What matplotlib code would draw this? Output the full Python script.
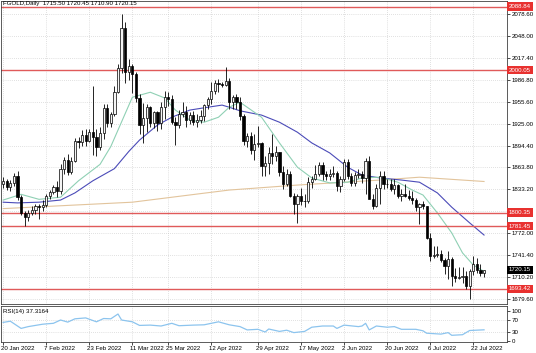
import matplotlib
matplotlib.use("Agg")
import matplotlib.pyplot as plt
import matplotlib.transforms as mtransforms
import numpy as np
import pandas as pd

plt.rcParams["font.family"] = ["Liberation Sans", "DejaVu Sans"]

# daily bars 20 Jan .. 27 Jul 2022
dates = pd.bdate_range("2022-01-20", "2022-07-27")

opens = [1840, 1844, 1836, 1842, 1852, 1822, 1800, 1794, 1800, 1804,
         1810, 1808, 1811, 1823, 1829, 1836, 1830, 1862, 1874, 1857,
         1873, 1901, 1899, 1909, 1901, 1913, 1907, 1892, 1912, 1947,
         1926, 1938, 1970, 2003, 2059, 1997, 2006, 1994, 1961, 1923,
         1933, 1948, 1926, 1941, 1926, 1949, 1963, 1959, 1928, 1923,
         1938, 1942, 1930, 1937, 1928, 1930, 1936, 1951, 1959, 1971,
         1982, 1980, 1979, 1985, 1955, 1963, 1956, 1936, 1901, 1908,
         1888, 1896, 1898, 1866, 1870, 1884, 1879, 1885, 1857, 1840,
         1855, 1823, 1812, 1824, 1816, 1817, 1843, 1847, 1855, 1867,
         1854, 1852, 1854, 1856, 1838, 1848, 1871, 1852, 1842, 1853,
         1854, 1849, 1872, 1820, 1809, 1835, 1852, 1841, 1840, 1833,
         1839, 1823, 1827, 1824, 1821, 1818, 1808, 1812, 1809, 1765,
         1740, 1741, 1743, 1734, 1726, 1736, 1712, 1709, 1710, 1712,
         1697, 1719, 1728, 1720, 1715.5]
highs = [1850, 1847, 1846, 1856, 1858, 1825, 1803, 1804, 1810, 1812,
         1813, 1818, 1826, 1832, 1839, 1844, 1868, 1878, 1883, 1878,
         1905, 1906, 1916, 1917, 1917, 1978, 1917, 1921, 1953, 1953,
         1941, 1978, 2008, 2078, 2068, 2015, 2008, 1997, 1966, 1954,
         1953, 1950, 1943, 1943, 1956, 1971, 1969, 1965, 1934, 1944,
         1955, 1950, 1942, 1943, 1939, 1944, 1953, 1963, 1983, 1986,
         1988, 1983, 2004, 1989, 1965, 1966, 1962, 1938, 1912, 1913,
         1911, 1922, 1899, 1879, 1892, 1911, 1894, 1886, 1866, 1861,
         1859, 1828, 1827, 1835, 1827, 1850, 1851, 1867, 1871, 1871,
         1858, 1861, 1865, 1859, 1851, 1875, 1875, 1856, 1857, 1861,
         1859, 1877, 1880, 1827, 1841, 1858, 1858, 1847, 1848, 1848,
         1840, 1834, 1840, 1832, 1831, 1821, 1814, 1816, 1810, 1772,
         1753, 1753, 1748, 1737, 1746, 1738, 1723, 1724, 1724, 1718,
         1721, 1740, 1737, 1728, 1720.45]
lows = [1835, 1832, 1830, 1838, 1818, 1797, 1782, 1789, 1797, 1798,
        1792, 1803, 1808, 1819, 1826, 1822, 1827, 1854, 1853, 1855,
        1871, 1891, 1894, 1894, 1899, 1881, 1880, 1888, 1903, 1921,
        1921, 1936, 1968, 1996, 1982, 1986, 1968, 1955, 1911, 1898,
        1914, 1921, 1919, 1915, 1917, 1931, 1950, 1925, 1895, 1919,
        1935, 1920, 1925, 1923, 1920, 1926, 1929, 1945, 1953, 1966,
        1970, 1977, 1978, 1946, 1945, 1945, 1930, 1895, 1893, 1882,
        1874, 1892, 1852, 1852, 1854, 1869, 1873, 1852, 1834, 1838,
        1822, 1799, 1786, 1811, 1808, 1814, 1835, 1846, 1851, 1846,
        1846, 1846, 1850, 1830, 1829, 1845, 1847, 1838, 1837, 1849,
        1842, 1827, 1823, 1806, 1808, 1813, 1833, 1835, 1831, 1826,
        1821, 1817, 1822, 1818, 1813, 1803, 1784, 1805, 1764, 1733,
        1737, 1738, 1731, 1715, 1707, 1698, 1703, 1707, 1702, 1693,
        1680, 1713, 1716, 1712, 1710.9]
closes = [1844, 1836, 1842, 1852, 1822, 1800, 1794, 1800, 1804, 1810,
          1808, 1811, 1823, 1829, 1836, 1830, 1862, 1874, 1857, 1873,
          1901, 1899, 1909, 1901, 1913, 1907, 1892, 1912, 1947, 1926,
          1938, 1970, 2003, 2059, 1997, 2006, 1994, 1961, 1923, 1933,
          1948, 1926, 1941, 1926, 1949, 1963, 1959, 1928, 1923, 1938,
          1942, 1930, 1937, 1928, 1930, 1936, 1951, 1959, 1971, 1982,
          1980, 1979, 1985, 1955, 1963, 1956, 1936, 1901, 1908, 1888,
          1896, 1898, 1866, 1870, 1884, 1879, 1885, 1857, 1840, 1855,
          1823, 1812, 1824, 1816, 1817, 1843, 1847, 1855, 1867, 1854,
          1852, 1854, 1856, 1838, 1848, 1871, 1852, 1842, 1853, 1854,
          1849, 1872, 1820, 1809, 1835, 1852, 1841, 1840, 1833, 1839,
          1823, 1827, 1824, 1821, 1818, 1808, 1812, 1809, 1765, 1740,
          1741, 1743, 1734, 1726, 1736, 1712, 1709, 1710, 1712, 1697,
          1719, 1728, 1720, 1715.5, 1720.15]

# moving averages (bar index, value)
ma_fast_bar = [0, 5, 10, 16, 21, 27, 30, 36, 41, 45, 48, 52, 56, 60, 63, 66, 72, 77, 82,
               86, 91, 96, 100, 105, 110, 114, 117, 121, 125, 128, 131, 134]
ma_fast_val = [1818, 1826, 1819, 1822, 1845, 1868, 1893, 1962, 1969, 1961, 1944, 1930, 1927,
               1934, 1948, 1955, 1934, 1898, 1864, 1849, 1842, 1843, 1849, 1850, 1843, 1832,
               1825, 1800, 1772, 1744, 1727, 1718]
ma_mid_bar = [0, 4, 10, 16, 20, 25, 31, 35, 38, 43, 47, 52, 57, 61, 63, 66, 72, 77, 82, 86,
              91, 96, 100, 105, 111, 116, 121, 125, 130, 134]
ma_mid_val = [1815, 1814, 1815, 1818, 1828, 1845, 1862, 1886, 1902, 1923, 1934, 1944, 1948,
              1951, 1948, 1943, 1937, 1927, 1913, 1898, 1884, 1864, 1853, 1849, 1846, 1843,
              1828, 1808, 1786, 1769]
ma_slow_bar = [0, 36, 55, 63, 82, 105, 116, 134]
ma_slow_val = [1806, 1815, 1827, 1832, 1839, 1846, 1850, 1844]

rsi_bar = [0, 2, 5, 7, 11, 14, 16, 18, 20, 23, 26, 28, 30, 32, 33, 36, 38, 41, 44, 47, 49,
           53, 56, 60, 63, 66, 68, 71, 73, 74, 77, 79, 81, 84, 86, 89, 92, 93, 95, 99, 100,
           101, 102, 104, 107, 109, 111, 115, 117, 118, 122, 124, 125, 128, 129, 130, 134]
rsi_val = [62, 66, 42, 48, 56, 59, 70, 63, 74, 77, 64, 75, 74, 90, 70, 64, 52, 53, 50, 59, 51,
           53, 54, 64, 54, 48, 37, 39, 30, 40, 32, 36, 28, 32, 46, 50, 50, 42, 53, 48, 50,
           59, 37, 50, 46, 48, 39, 39, 34, 26, 23, 28, 19, 21, 28, 35, 37.3164]

levels = [2088.84, 2000.05, 1800.35, 1781.45, 1693.42]
price_ticks = [2078.60, 2048.00, 2017.40, 1986.80, 1955.60, 1925.00, 1894.40,
               1863.80, 1833.20, 1802.60, 1772.00, 1741.40, 1710.20, 1679.60]
date_ticks = ["2022-01-20", "2022-02-07", "2022-02-23", "2022-03-11", "2022-03-25",
              "2022-04-12", "2022-04-29", "2022-05-17", "2022-06-02", "2022-06-20",
              "2022-07-06", "2022-07-22"]

W, H = 536, 353
FS = 4.4
fig = plt.figure(figsize=(W / 100, H / 100), dpi=100, facecolor="white")
ax = fig.add_axes([1 / W, 1 - 304 / H, 506 / W, 303 / H])
ax_rsi = fig.add_axes([1 / W, 1 - 342 / H, 506 / W, 36 / H], sharex=ax)

x = np.arange(len(dates))
o = np.array(opens); h = np.array(highs); l = np.array(lows); c = np.array(closes)
up = c >= o

grid_kw = dict(color="#c4c4c4", linewidth=0.5, linestyle=(0, (1, 2)))
tick_x = [dates.get_loc(pd.Timestamp(d)) for d in date_ticks]
for a in (ax, ax_rsi):
    for t in tick_x:
        a.axvline(t, zorder=0, **grid_kw)
for p in price_ticks:
    ax.axhline(p, zorder=0, **grid_kw)

# slow / mid / fast MAs
ax.plot(ma_slow_bar, ma_slow_val, color="#e2c49c", linewidth=0.8, zorder=1)
ax.plot(ma_mid_bar, ma_mid_val, color="#4b4bb8", linewidth=0.8, zorder=1)
ax.plot(ma_fast_bar, ma_fast_val, color="#8fd0b4", linewidth=0.8, zorder=1)

for lv in levels:
    ax.axhline(lv, color="#e05a5a", linewidth=1.0, zorder=2)

# candles
ax.vlines(x, l, h, color="black", linewidth=0.6, zorder=3)
body = np.maximum(np.abs(c - o), 0.6)
ax.bar(x[up], body[up], bottom=np.minimum(o, c)[up], width=0.62,
       color="#f4f4f4", edgecolor="black", linewidth=0.5, zorder=4)
ax.bar(x[~up], body[~up], bottom=np.minimum(o, c)[~up], width=0.62,
       color="black", edgecolor="black", linewidth=0.5, zorder=4)

ax.set_xlim(-0.6, 140.4)
ax.set_ylim(1672.4, 2096.8)
ax.yaxis.tick_right()
ax.set_yticks([p for p in price_ticks if p != 1802.60])
ax.set_yticklabels([f"{p:.2f}" for p in price_ticks if p != 1802.60])
ax.tick_params(axis="y", labelsize=FS, length=2, width=0.5, pad=1.5)
ax.tick_params(axis="x", length=0, labelbottom=False)

trans = mtransforms.blended_transform_factory(ax.transAxes, ax.transData)
for lv in levels:
    ax.text(1.004, lv, f"{lv:.2f}", transform=trans, fontsize=FS, color="white",
            va="center", ha="left", zorder=10, clip_on=False,
            bbox=dict(boxstyle="square,pad=0.3", fc="#e8312f", ec="none"))
ax.text(1.004, closes[-1], f"{closes[-1]:.2f}", transform=trans, fontsize=FS, color="white",
        va="center", ha="left", zorder=10, clip_on=False,
        bbox=dict(boxstyle="square,pad=0.3", fc="black", ec="none"))

ax.text(0.004, 0.999, "FGOLD,Daily  1715.50 1720.45 1710.90 1720.15", transform=ax.transAxes,
        fontsize=FS, va="top", ha="left", zorder=11)

# RSI pane
ax_rsi.plot(rsi_bar, rsi_val, color="#8cc4ee", linewidth=0.9)
for lv in (70, 30):
    ax_rsi.axhline(lv, zorder=0, **grid_kw)
ax_rsi.set_ylim(-3.3, 116.7)
ax_rsi.yaxis.tick_right()
ax_rsi.set_yticks([100, 70, 30, 0])
ax_rsi.set_yticklabels(["100", "70", "30", "0"])
ax_rsi.tick_params(axis="y", labelsize=FS, length=2, width=0.5, pad=1.5)
ax_rsi.text(0.004, 0.93, f"RSI(14) {rsi_val[-1]:.4f}", transform=ax_rsi.transAxes,
            fontsize=FS, va="top", ha="left")

ax_rsi.set_xticks(tick_x)
ax_rsi.set_xticklabels([pd.Timestamp(d).strftime("%-d %b %Y") for d in date_ticks])
ax_rsi.tick_params(axis="x", labelsize=FS, length=2, width=0.5, pad=1)
shift = mtransforms.ScaledTranslation(-2 / 100, 0, fig.dpi_scale_trans)
for lab in ax_rsi.get_xticklabels():
    lab.set_ha("left")
    lab.set_transform(lab.get_transform() + shift)

for a in (ax, ax_rsi):
    for s in a.spines.values():
        s.set_linewidth(0.6)
        s.set_color("#404040")

fig.savefig("out.png", dpi=100, facecolor="white")
